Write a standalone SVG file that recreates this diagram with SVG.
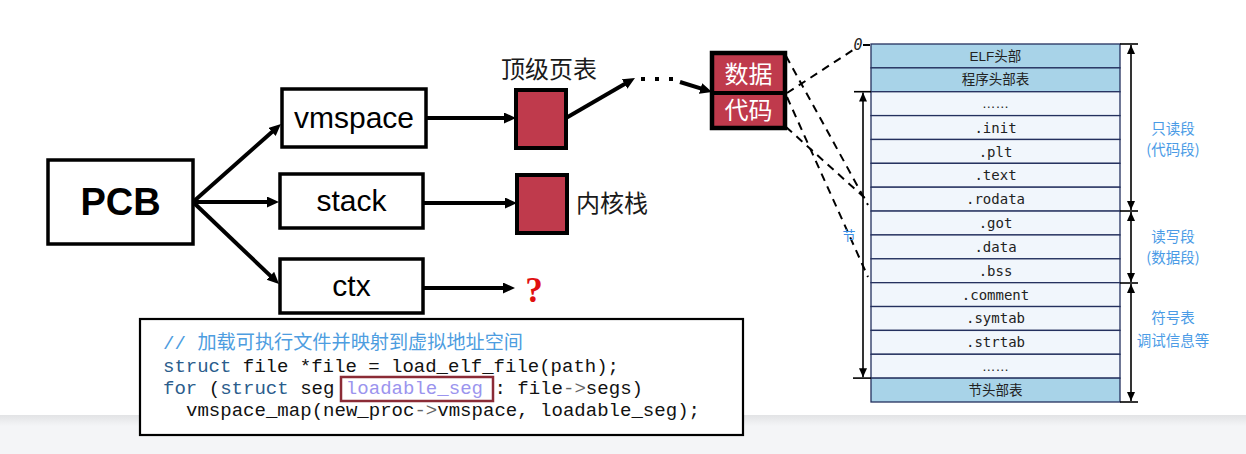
<svg xmlns="http://www.w3.org/2000/svg" width="1246" height="454" viewBox="0 0 1246 454">
<style>
.box{fill:#fff;stroke:#000;stroke-width:3.5}
.lbl{font-family:"Liberation Sans",Arial,sans-serif;fill:#000;text-anchor:middle}
.cjk{font-family:"Noto Sans CJK SC",sans-serif}
.arr{stroke:#000;stroke-width:4;fill:none;marker-end:url(#ah)}
.sq{fill:#bf3a4c;stroke:#000;stroke-width:4}
.dash{stroke:#000;stroke-width:2;stroke-dasharray:8 6;fill:none}
.row{fill:#f1f6fc;stroke:#24305e;stroke-width:1.3}
.hdr{fill:#a8d3e8;stroke:#24305e;stroke-width:1.3}
.tt{font-family:"DejaVu Sans Mono","Liberation Mono",monospace;font-size:14px;fill:#222;text-anchor:middle}
.th{font-family:"Liberation Sans","Noto Sans CJK SC",sans-serif;font-size:13.5px;fill:#222;text-anchor:middle}
.seg{font-family:"Noto Sans CJK SC",sans-serif;font-size:14.5px;fill:#4a9be6;text-anchor:middle}
.thin{stroke:#000;stroke-width:1.6;fill:none}
.dim{stroke:#000;stroke-width:1.6;fill:none;marker-start:url(#th);marker-end:url(#th)}
.code{font-family:"Liberation Mono","Noto Sans CJK SC",monospace;font-size:19px;fill:#111}
.cm{fill:#4d9de0}
.kw{fill:#2b5d8c}
.hl{fill:#9b94ee}
.op{fill:#666}
</style>
<defs>
<marker id="ah" markerUnits="userSpaceOnUse" markerWidth="14" markerHeight="12" refX="6" refY="5.5" orient="auto"><path d="M0,0 L12,5.5 L0,11 z" fill="#000"/></marker>
<marker id="th" markerUnits="userSpaceOnUse" markerWidth="10" markerHeight="10" refX="9" refY="4" orient="auto-start-reverse"><path d="M0,0 L9,4 L0,8 z" fill="#000"/></marker>
<linearGradient id="band" x1="0" y1="0" x2="0" y2="1"><stop offset="0" stop-color="#e2e3e5"/><stop offset="1" stop-color="#f4f5f7"/></linearGradient>
</defs>
<rect x="0" y="0" width="1246" height="454" fill="#fff"/>
<rect x="0" y="415" width="1246" height="39" fill="#f4f5f7"/>
<rect x="0" y="415" width="1246" height="11" fill="url(#band)"/>

<g id="connectors">
<line class="arr" x1="193" y1="202" x2="276.5" y2="128"/>
<line class="arr" x1="193" y1="202" x2="273" y2="202"/>
<line class="arr" x1="193" y1="202" x2="274.7" y2="279.9"/>
<line class="arr" x1="426" y1="118" x2="510" y2="118"/>
<line class="arr" x1="423" y1="203" x2="511" y2="203"/>
<line class="arr" x1="423" y1="288" x2="509" y2="288"/>
<line class="arr" x1="566" y1="118" x2="629.8" y2="81"/>
<g fill="#000"><rect x="641" y="77" width="4" height="4"/><rect x="655" y="77" width="4" height="4"/><rect x="669" y="77" width="4" height="4"/></g>
<line class="arr" x1="680" y1="82" x2="706.3" y2="90.2"/>
<line class="dash" x1="787" y1="93" x2="853" y2="50"/>
<line class="dash" x1="863" y1="45" x2="870" y2="45"/>
<line class="dash" x1="786" y1="56" x2="868" y2="205"/>
<line class="dash" x1="787" y1="97" x2="868" y2="277"/>
<line class="dash" x1="786" y1="127" x2="866" y2="199"/>
</g>

<g id="pcb"><rect class="box" x="48" y="160" width="145" height="84"/><text class="lbl" x="120.5" y="215" font-size="38" font-weight="bold">PCB</text></g>
<g id="vmspace"><rect class="box" x="282" y="89" width="144" height="58"/><text class="lbl" x="354" y="128" font-size="30">vmspace</text></g>
<g id="stack"><rect class="box" x="280" y="174" width="143" height="54"/><text class="lbl" x="351.5" y="211" font-size="30">stack</text></g>
<g id="ctx"><rect class="box" x="280" y="259" width="143" height="54"/><text class="lbl" x="351.5" y="296" font-size="30">ctx</text></g>

<g id="pagetable"><rect class="sq" x="516" y="90" width="50" height="58"/><text class="cjk" x="501" y="78" font-size="24" fill="#1a1a1a">顶级页表</text></g>
<g id="kstack"><rect class="sq" x="517" y="175" width="50" height="58"/><text class="cjk" x="576" y="212" font-size="24" fill="#1a1a1a">内核栈</text></g>
<g id="unknown"><text x="534" y="302" font-family="Liberation Serif,serif" font-size="35" font-weight="bold" fill="#e01010" text-anchor="middle">?</text></g>

<g id="datacode">
<rect x="712" y="53" width="73" height="75" fill="#bf3a4c" stroke="#000" stroke-width="4.5"/>
<line x1="712" y1="93" x2="785" y2="93" stroke="#000" stroke-width="4"/>
<text class="cjk" x="748.5" y="83" font-size="24" fill="#fff" text-anchor="middle">数据</text>
<text class="cjk" x="748.5" y="119" font-size="24" fill="#fff" text-anchor="middle">代码</text>
</g>

<g id="elf">
<text x="858" y="50" font-family="DejaVu Sans Mono,monospace" font-style="italic" font-size="15" fill="#222" text-anchor="middle">0</text>
<rect class="hdr" x="871" y="44" width="249" height="23.87"/>
<rect class="hdr" x="871" y="67.87" width="249" height="23.87"/>
<rect class="row" x="871" y="91.73" width="249" height="23.87"/>
<rect class="row" x="871" y="115.6" width="249" height="23.87"/>
<rect class="row" x="871" y="139.47" width="249" height="23.87"/>
<rect class="row" x="871" y="163.33" width="249" height="23.87"/>
<rect class="row" x="871" y="187.2" width="249" height="23.87"/>
<rect class="row" x="871" y="211.07" width="249" height="23.87"/>
<rect class="row" x="871" y="234.93" width="249" height="23.87"/>
<rect class="row" x="871" y="258.8" width="249" height="23.87"/>
<rect class="row" x="871" y="282.67" width="249" height="23.87"/>
<rect class="row" x="871" y="306.53" width="249" height="23.87"/>
<rect class="row" x="871" y="330.4" width="249" height="23.87"/>
<rect class="row" x="871" y="354.27" width="249" height="23.87"/>
<rect class="hdr" x="871" y="378.13" width="249" height="23.87"/>
<text class="th" x="995.5" y="60.5">ELF头部</text>
<text class="th" x="995.5" y="84.3">程序头部表</text>
<text class="th" x="995.5" y="108">……</text>
<text class="tt" x="995.5" y="132.5">.init</text>
<text class="tt" x="995.5" y="156.5">.plt</text>
<text class="tt" x="995.5" y="180">.text</text>
<text class="tt" x="995.5" y="204">.rodata</text>
<text class="tt" x="995.5" y="228">.got</text>
<text class="tt" x="995.5" y="251.5">.data</text>
<text class="tt" x="995.5" y="275.5">.bss</text>
<text class="tt" x="995.5" y="299.5">.comment</text>
<text class="tt" x="995.5" y="323">.symtab</text>
<text class="tt" x="995.5" y="347">.strtab</text>
<text class="th" x="995.5" y="370.5">……</text>
<text class="th" x="995.5" y="394.5">节头部表</text>
<line class="thin" x1="854" y1="91.7" x2="871" y2="91.7"/>
<line class="thin" x1="853" y1="378.1" x2="871" y2="378.1"/>
<line class="dim" x1="863" y1="92.5" x2="863" y2="377.3"/>
<text x="849" y="240" font-family="Noto Sans CJK SC,sans-serif" font-size="13" fill="#3a8ee6" text-anchor="middle">节</text>
<line class="thin" x1="1120" y1="44" x2="1138" y2="44"/>
<line class="thin" x1="1120" y1="211" x2="1138" y2="211"/>
<line class="thin" x1="1120" y1="283" x2="1138" y2="283"/>
<line class="thin" x1="1120" y1="402" x2="1138" y2="402"/>
<line class="dim" x1="1131" y1="45" x2="1131" y2="210"/>
<line class="dim" x1="1131" y1="212" x2="1131" y2="282"/>
<line class="dim" x1="1131" y1="284" x2="1131" y2="401"/>
<text class="seg" x="1173" y="134">只读段</text>
<text class="seg" x="1173" y="155">(代码段)</text>
<text class="seg" x="1173" y="242">读写段</text>
<text class="seg" x="1173" y="263">(数据段)</text>
<text class="seg" x="1173" y="323">符号表</text>
<text class="seg" x="1173" y="346">调试信息等</text>
</g>

<g id="code">
<rect x="140" y="319" width="603" height="116" fill="#fff" stroke="#000" stroke-width="2.2"/>
<text class="code cm" x="163" y="349" textLength="360" lengthAdjust="spacingAndGlyphs">// 加载可执行文件并映射到虚拟地址空间</text>
<text class="code" x="163" y="372" textLength="456" lengthAdjust="spacingAndGlyphs"><tspan class="kw">struct</tspan> file *file = load_elf_file(path);</text>
<text class="code" x="163" y="394" textLength="480" lengthAdjust="spacingAndGlyphs"><tspan class="kw">for</tspan> (<tspan class="kw">struct</tspan> seg <tspan class="hl">loadable_seg</tspan> : file<tspan class="op">-&gt;</tspan>segs)</text>
<text class="code" x="186" y="416" textLength="514" lengthAdjust="spacingAndGlyphs">vmspace_map(new_proc<tspan class="op">-&gt;</tspan>vmspace, loadable_seg);</text>
<rect x="341" y="377" width="152" height="24" fill="none" stroke="#8b2b36" stroke-width="2.5"/>
</g>
</svg>
